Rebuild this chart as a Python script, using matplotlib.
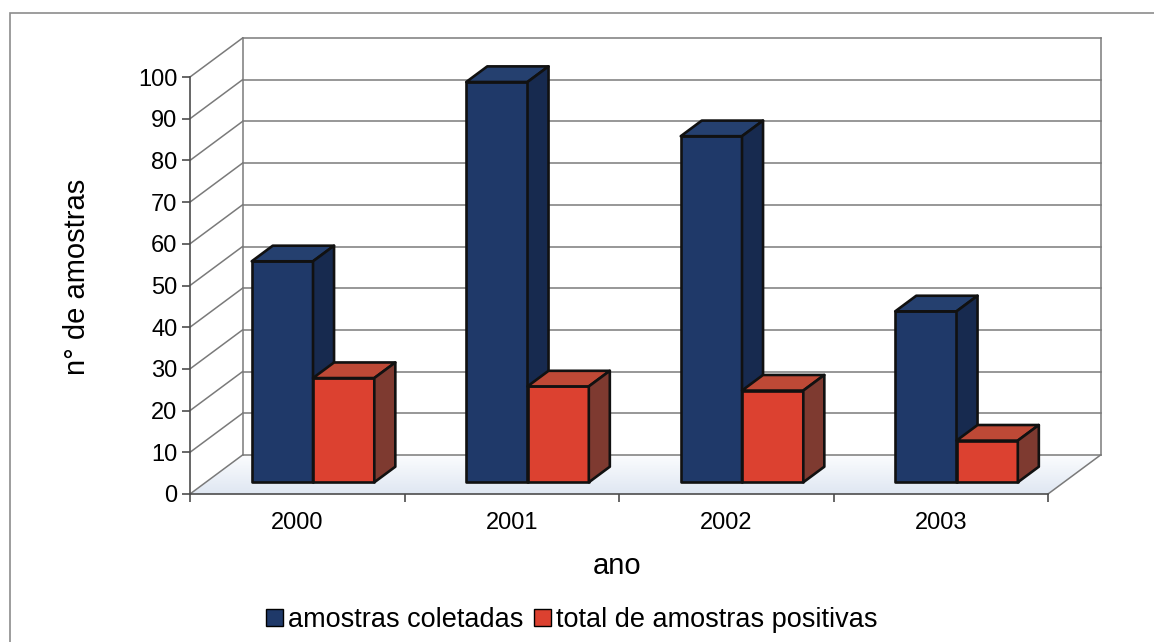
import numpy as np
import matplotlib
matplotlib.use("Agg")
import matplotlib.pyplot as plt
from matplotlib.patches import Polygon, Patch, Rectangle

plt.rcParams['font.family'] = ['Liberation Sans', 'DejaVu Sans']

# ── Data ──────────────────────────────────────────────────────────────────────
years      = ['2000', '2001', '2002', '2003']
coletadas  = [53, 96, 83, 41]
positivas  = [25, 23, 22, 10]
series     = ['amostras coletadas', 'total de amostras positivas']
y_ticks    = list(range(0, 101, 10))

# ── Oblique "3-D" geometry (data units) ──────────────────────────────────────
DX, DY   = 0.245, 9.35          # offset of the back wall relative to the front
D0, D1   = 0.30, 0.70           # bar depth range (fraction of full depth)
W        = 1 / 3.5              # bar width, gap width 150 %
GAP      = (1 - 2 * W) / 2
VMAX     = 100

face_cols = [('#1f3969', '#25406f', '#172a4f'),   # front, top, side
             ('#dc4130', '#be4936', '#7e3a30')]


def proj(x, v, d):
    return x + d * DX, v + d * DY


def bar3d(ax, x0, h, cols, z):
    front = [proj(x0, 0, D0), proj(x0 + W, 0, D0), proj(x0 + W, h, D0), proj(x0, h, D0)]
    top   = [proj(x0, h, D0), proj(x0 + W, h, D0), proj(x0 + W, h, D1), proj(x0, h, D1)]
    side  = [proj(x0 + W, 0, D0), proj(x0 + W, 0, D1), proj(x0 + W, h, D1), proj(x0 + W, h, D0)]
    for pts, c in zip([front, top, side], cols):
        ax.add_patch(Polygon(pts, closed=True, facecolor=c, edgecolor='#111111',
                             lw=1.9, joinstyle='round', zorder=z))


# ── Figure: axes fills the canvas, pixel-aligned data scale ──────────────────
fig = plt.figure(figsize=(11.54, 6.42), dpi=100)
ax = fig.add_axes([0, 0, 1, 1])
px_x, org_x = 214.5, 190.0       # px per category, front-axis pixel column
px_v, org_v = 4.17, 148.0        # px per unit value, pixel row of v=0 (from bottom)
ax.set_xlim(-org_x / px_x, (1154 - org_x) / px_x)
ax.set_ylim(-org_v / px_v, (642 - org_v) / px_v)
ax.patch.set_visible(False)

n = len(years)
grid_kw = dict(color='#7a7a7a', lw=1.1, zorder=1)

# back wall + left wall gridlines
for v in y_ticks:
    xb, vb = proj(0, v, 1)
    ax.plot([0, xb], [v, vb], **grid_kw)
    ax.plot([xb, n + DX], [vb, vb], **grid_kw)
ax.plot([DX, DX], [DY, VMAX + DY], **grid_kw)
ax.plot([n + DX, n + DX], [DY, VMAX + DY], **grid_kw)
ax.plot([n, n + DX], [0, DY], **grid_kw)

# floor with a faint blue haze toward the front
floor = Polygon([proj(0, 0, 0), proj(n, 0, 0), proj(n, 0, 1), proj(0, 0, 1)],
                closed=True, facecolor='none', edgecolor='none')
ax.add_patch(floor)
grad = np.linspace(0, 1, 64)[:, None]
cmap = matplotlib.colors.LinearSegmentedColormap.from_list('floor', ['#dfe7f2', '#fbfcfe'])
img = ax.imshow(grad, cmap=cmap, aspect='auto', origin='lower',
                extent=(0, n + DX, 0, DY), zorder=0.5, interpolation='bilinear')
img.set_clip_path(floor)

# bars, left to right so each one covers its neighbour's side face
z = 3
for i in range(n):
    for s, vals in enumerate([coletadas, positivas]):
        bar3d(ax, i + GAP + s * W, vals[i], face_cols[s], z)
        z += 1

# front axes
for side in ['top', 'right']:
    ax.spines[side].set_visible(False)
ax.spines['left'].set_position(('data', 0))
ax.spines['left'].set_bounds(0, VMAX)
ax.spines['bottom'].set_position(('data', 0))
ax.spines['bottom'].set_bounds(0, n)
for side in ['left', 'bottom']:
    ax.spines[side].set_color('#4d4d4d')
    ax.spines[side].set_linewidth(1.2)
    ax.spines[side].set_zorder(2)

ax.set_yticks(y_ticks)
ax.tick_params(axis='y', length=6, width=1.2, color='#4d4d4d', labelsize=17, pad=3)
ax.set_xticks(np.arange(n) + 0.5)
ax.set_xticklabels(years)
ax.set_xticks(np.arange(n + 1), minor=True)
ax.tick_params(axis='x', which='major', length=0, labelsize=17, pad=13)
ax.tick_params(axis='x', which='minor', length=6, width=1.2, color='#4d4d4d')

# titles
fig.text(77 / 1154, 1 - 277 / 642, 'n° de amostras', rotation=90,
         ha='center', va='center', fontsize=21)
fig.text(617 / 1154, 1 - 566 / 642, 'ano', ha='center', va='center', fontsize=21)

handles = [Patch(facecolor=face_cols[s][0], edgecolor='black', lw=1.0) for s in range(2)]
fig.legend(handles, series, loc='center', bbox_to_anchor=(572 / 1154, 1 - 620 / 642),
           ncol=2, frameon=False, fontsize=19.5, handlelength=0.6, handleheight=0.6,
           handletextpad=0.2, columnspacing=0.4)

# chart-area border
fig.patches.append(Rectangle((10 / 1154, -0.1), 1.2, 1.1 - 13 / 642,
                             transform=fig.transFigure, fill=False,
                             edgecolor='#8c8c8c', lw=1.2))

fig.savefig('out.png', dpi=100)
